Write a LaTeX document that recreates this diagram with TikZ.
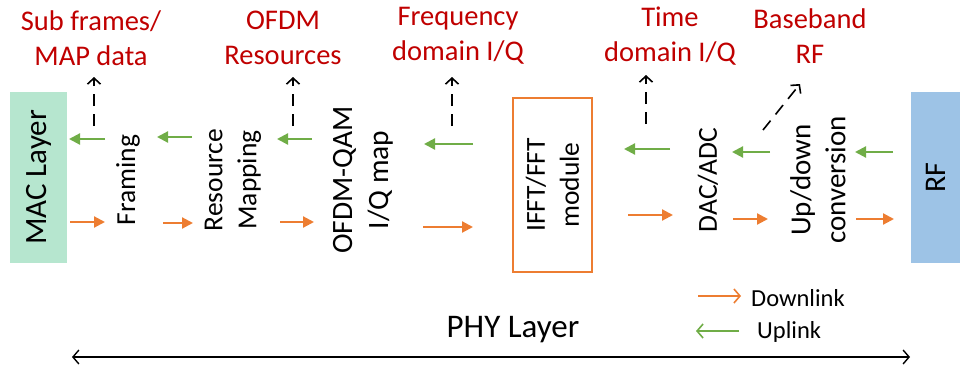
\documentclass[tikz,border=0pt]{standalone}
\usepackage{fontspec}
\setmainfont{Carlito}
\usetikzlibrary{arrows.meta}
\definecolor{upg}{HTML}{70AD47}
\definecolor{downo}{HTML}{ED7D31}
\definecolor{lblred}{HTML}{C00000}
\definecolor{macg}{HTML}{B6E6CF}
\definecolor{rfb}{HTML}{9DC3E6}
\begin{document}
\begin{tikzpicture}[x=1pt,y=-1pt,
  blk/.style={rotate=90,align=center,font=\fontsize{27.5}{34}\selectfont,inner sep=0pt},
  lbl/.style={align=center,text=lblred,font=\fontsize{28.5}{35}\selectfont,inner sep=0pt},
  uparr/.style={draw=upg,line width=2.2pt,-{Triangle[length=11pt,width=11pt]}},
  dnarr/.style={draw=downo,line width=2.2pt,-{Triangle[length=11pt,width=11pt]}},
  dasharr/.style={draw=black,line width=1.6pt,dash pattern=on 12pt off 8pt,-{Straight Barb[length=6pt,width=13pt]}},
  legtxt/.style={font=\fontsize{24.5}{28}\selectfont,inner sep=0pt,anchor=west}]
\useasboundingbox (0,0) rectangle (960,367);
% end blocks
\node[fill=macg,minimum width=57pt,minimum height=171pt,inner sep=0pt] (mac) at (38.5,177.5) {};
\node[blk,font=\fontsize{31}{34}\selectfont] at (mac.center) {MAC Layer};
\node[fill=rfb,minimum width=49pt,minimum height=171pt,inner sep=0pt] (rf) at (935.5,177.5) {};
\node[blk,font=\fontsize{30}{34}\selectfont] at (mac.center -| rf.center) {RF};
% processing blocks
\node[blk] (fr) at (128,180) {Framing};
\node[blk] (rm) at (233,180) {Resource\\Mapping};
\node[blk,font=\fontsize{29.5}{36}\selectfont] (oq) at (363,180) {OFDM-QAM\\I/Q map};
\node[draw=downo,line width=1.6pt,minimum width=79pt,minimum height=174pt,inner sep=0pt] (fft) at (552.5,185) {};
\node[blk] at (fft.center) {IFFT/FFT\\module};
\node[blk] (dac) at (708,180) {DAC/ADC};
\node[blk,font=\fontsize{29}{35}\selectfont] (ud) at (818,180) {Up/down\\conversion};
% labels
\node[lbl] (l1) at (91,38) {Sub frames/\\MAP data};
\node[lbl] (l2) at (283,38) {OFDM\\Resources};
\node[lbl] (l3) at (458,36) {Frequency\\domain I/Q};
\node[lbl] (l4) at (670,36) {Time\\domain I/Q};
\node[lbl] (l5) at (810,36) {Baseband\\RF};
% uplink arrows
\coordinate (u1a) at (105,139); \coordinate (u1b) at (69,139);
\coordinate (u2a) at (192,137); \coordinate (u2b) at (157,137);
\coordinate (u3a) at (312,139); \coordinate (u3b) at (277,139);
\coordinate (u4a) at (473,144); \coordinate (u4b) at (424,144);
\coordinate (u5a) at (670,149); \coordinate (u5b) at (624,149);
\coordinate (u6a) at (770,152); \coordinate (u6b) at (732,152);
\coordinate (u7a) at (893,152); \coordinate (u7b) at (855,152);
\foreach \i in {1,...,7} \draw[uparr] (u\i a) -- (u\i b);
% downlink arrows
\coordinate (d1a) at (70,222); \coordinate (d1b) at (105,222);
\coordinate (d2a) at (163,223); \coordinate (d2b) at (193,223);
\coordinate (d3a) at (280,222); \coordinate (d3b) at (314,222);
\coordinate (d4a) at (423,227); \coordinate (d4b) at (473,227);
\coordinate (d5a) at (628,215); \coordinate (d5b) at (673,215);
\coordinate (d6a) at (733,219); \coordinate (d6b) at (768,219);
\coordinate (d7a) at (856,219); \coordinate (d7b) at (894,219);
\foreach \i in {1,...,7} \draw[dnarr] (d\i a) -- (d\i b);
% dashed arrows
\coordinate (t1a) at (94,126); \coordinate (t1b) at (94,77);
\coordinate (t2a) at (293,126); \coordinate (t2b) at (293,77);
\coordinate (t3a) at (452,126); \coordinate (t3b) at (452,77);
\coordinate (t4a) at (646,124); \coordinate (t4b) at (646,75);
\coordinate (t5a) at (763,130); \coordinate (t5b) at (800,84);
\foreach \i in {1,...,5} \draw[dasharr] (t\i a) -- (t\i b);
% legend
\coordinate (lg1a) at (698,296); \coordinate (lg1b) at (741,296);
\draw[draw=downo,line width=1.6pt,-{Straight Barb[length=6pt,width=14pt]}] (lg1a) -- (lg1b);
\node[legtxt] (dl) at (751,298) {Downlink};
\coordinate (lg2a) at (739,331); \coordinate (lg2b) at (696,331);
\draw[draw=upg,line width=1.6pt,-{Straight Barb[length=6pt,width=14pt]}] (lg2a) -- (lg2b);
\node[legtxt] (ul) at (757,332) {Uplink};
% PHY layer
\node[font=\fontsize{33}{36}\selectfont,inner sep=0pt] (phy) at (513,330) {PHY Layer};
\coordinate (pa) at (72,357); \coordinate (pb) at (910,357);
\draw[line width=1.4pt,{Straight Barb[length=6pt,width=14pt]}-{Straight Barb[length=6pt,width=14pt]}] (pa) -- (pb);
\end{tikzpicture}
\end{document}
